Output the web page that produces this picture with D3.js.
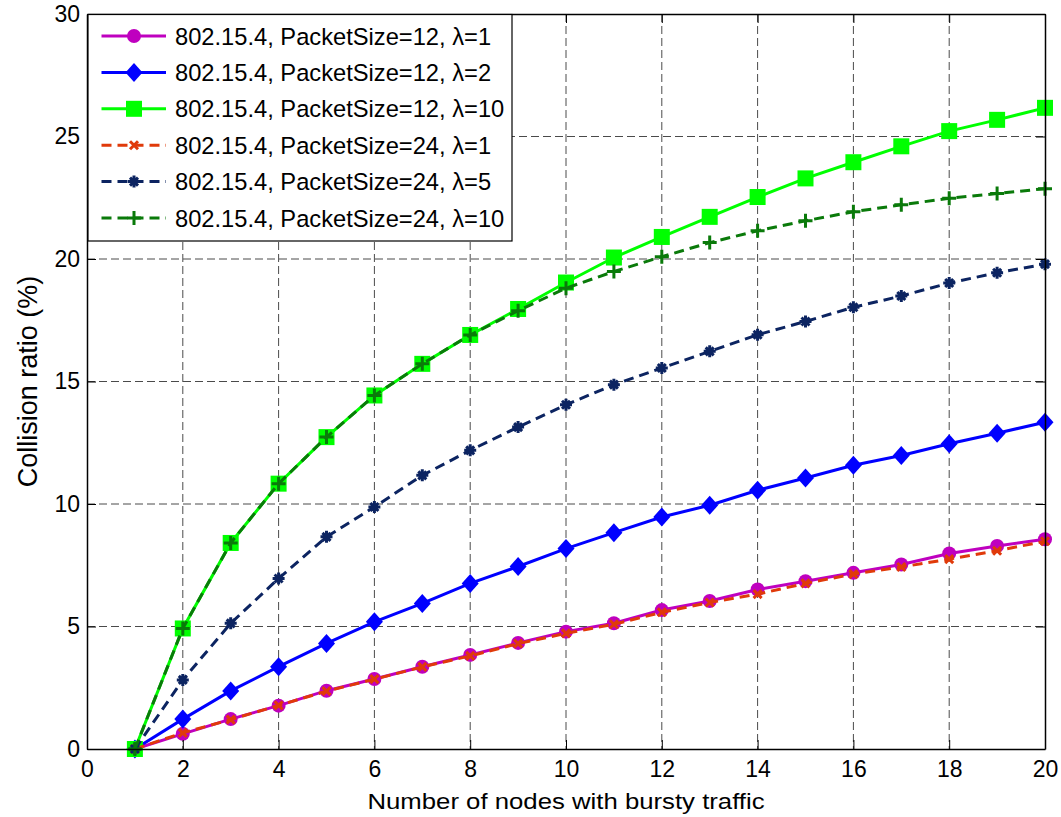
<!DOCTYPE html>
<html>
<head>
<meta charset="utf-8">
<script src="https://cdn.jsdelivr.net/npm/d3@7"></script>
<style>
  html, body { margin: 0; padding: 0; background: #fff; }
  svg { display: block; font-family: "Liberation Sans", Arial, Helvetica, sans-serif; }
</style>
</head>
<body>
<svg id="chart" width="1061" height="817"></svg>
<script>
// ---- data ----
const nodes = [1, 2, 3, 4, 5, 6, 7, 8, 9, 10, 11, 12, 13, 14, 15, 16, 17, 18, 19, 20];
const ps12_l1  = [0, 0.62, 1.22, 1.77, 2.38, 2.86, 3.36, 3.84, 4.33, 4.79, 5.13, 5.67, 6.04, 6.51, 6.85, 7.19, 7.53, 7.98, 8.29, 8.56];
const ps12_l2  = [0, 1.22, 2.37, 3.36, 4.31, 5.19, 5.94, 6.76, 7.45, 8.18, 8.83, 9.47, 9.95, 10.56, 11.06, 11.58, 11.98, 12.46, 12.89, 13.34];
const ps12_l10 = [0, 4.92, 8.41, 10.83, 12.73, 14.43, 15.72, 16.90, 17.96, 19.04, 20.06, 20.90, 21.72, 22.53, 23.29, 23.95, 24.60, 25.22, 25.68, 26.17];
const ps24_l1  = [0, 0.66, 1.20, 1.78, 2.36, 2.85, 3.35, 3.80, 4.30, 4.72, 5.09, 5.58, 5.98, 6.32, 6.76, 7.14, 7.43, 7.75, 8.09, 8.48];
const ps24_l5  = [0, 2.82, 5.13, 6.96, 8.66, 9.88, 11.17, 12.19, 13.14, 14.05, 14.87, 15.55, 16.23, 16.91, 17.45, 18.03, 18.49, 19.02, 19.44, 19.79];
const ps24_l10 = [0, 4.92, 8.41, 10.83, 12.73, 14.43, 15.72, 16.90, 17.89, 18.81, 19.49, 20.09, 20.67, 21.15, 21.56, 21.93, 22.21, 22.48, 22.67, 22.87];

const seriesLabels = [
  "802.15.4, PacketSize=12, \u03BB=1",
  "802.15.4, PacketSize=12, \u03BB=2",
  "802.15.4, PacketSize=12, \u03BB=10",
  "802.15.4, PacketSize=24, \u03BB=1",
  "802.15.4, PacketSize=24, \u03BB=5",
  "802.15.4, PacketSize=24, \u03BB=10"
];
const xTicks = [0, 2, 4, 6, 8, 10, 12, 14, 16, 18, 20];
const yTicks = [0, 5, 10, 15, 20, 25, 30];
const xTitle = "Number of nodes with bursty traffic";
const yTitle = "Collision ratio (%)";

// ---- styles ----
const styles = [
  { values: ps12_l1,  color: "#bf00bf", dash: null,   marker: "circle" },
  { values: ps12_l2,  color: "#0000ff", dash: null,   marker: "diamond" },
  { values: ps12_l10, color: "#00ff00", dash: null,   marker: "square" },
  { values: ps24_l1,  color: "#e03a0a", dash: "10,6", marker: "x" },
  { values: ps24_l5,  color: "#0c2461", dash: "10,6", marker: "star" },
  { values: ps24_l10, color: "#0a7a0a", dash: "10,6", marker: "plus" }
];

const W = 1061, H = 817;
const L = 87, R = 1045, T = 14, B = 749;
const FONT = 23;

const svg = d3.select("#chart");
const x = d3.scaleLinear().domain([0, 20]).range([L, R]);
const y = d3.scaleLinear().domain([0, 30]).range([B, T]);

// grid
const grid = svg.append("g");
grid.selectAll("line.vg").data(xTicks.filter(t => t > 0 && t < 20)).enter().append("line")
  .attr("x1", d => x(d)).attr("x2", d => x(d)).attr("y1", T).attr("y2", B)
  .attr("stroke", "#4a4a4a").attr("stroke-width", 1).attr("stroke-dasharray", "8,4");
grid.selectAll("line.hg").data(yTicks.filter(t => t > 0 && t < 30)).enter().append("line")
  .attr("x1", L).attr("x2", R).attr("y1", d => y(d)).attr("y2", d => y(d))
  .attr("stroke", "#4a4a4a").attr("stroke-width", 1).attr("stroke-dasharray", "8,4");

// markers
function drawMarker(g, type, color, cx, cy) {
  switch (type) {
    case "circle":
      g.append("circle").attr("cx", cx).attr("cy", cy).attr("r", 7).attr("fill", color);
      break;
    case "diamond":
      g.append("path").attr("d", `M${cx},${cy-9.5}L${cx+8.5},${cy}L${cx},${cy+9.5}L${cx-8.5},${cy}Z`).attr("fill", color);
      break;
    case "square":
      g.append("rect").attr("x", cx - 8).attr("y", cy - 8).attr("width", 16).attr("height", 16).attr("fill", color);
      break;
    case "x":
      g.append("path").attr("d", `M${cx-4},${cy-4}L${cx+4},${cy+4}M${cx-4},${cy+4}L${cx+4},${cy-4}`)
        .attr("stroke", color).attr("stroke-width", 3).attr("fill", "none");
      break;
    case "star":
      g.append("path").attr("d", `M${cx},${cy-6}L${cx},${cy+6}M${cx-6},${cy}L${cx+6},${cy}M${cx-4},${cy-4}L${cx+4},${cy+4}M${cx-4},${cy+4}L${cx+4},${cy-4}`)
        .attr("stroke", color).attr("stroke-width", 3).attr("fill", "none");
      break;
    case "plus":
      g.append("path").attr("d", `M${cx},${cy-7}L${cx},${cy+7}M${cx-7},${cy}L${cx+7},${cy}`)
        .attr("stroke", color).attr("stroke-width", 3).attr("fill", "none");
      break;
  }
}

// series
const line = d3.line().x(d => x(d[0])).y(d => y(d[1]));
styles.forEach(s => {
  const pts = nodes.map((n, i) => [n, s.values[i]]);
  const g = svg.append("g");
  g.append("path").datum(pts).attr("d", line)
    .attr("fill", "none").attr("stroke", s.color).attr("stroke-width", 3)
    .attr("stroke-dasharray", s.dash);
  pts.forEach(p => drawMarker(g, s.marker, s.color, x(p[0]), y(p[1])));
});

// axes (ticks inward)
const axB = svg.append("g").attr("transform", `translate(0,${B})`)
  .call(d3.axisBottom(x).tickValues(xTicks).tickSizeInner(-9).tickSizeOuter(0).tickPadding(12).tickFormat(d3.format("d")));
const axL = svg.append("g").attr("transform", `translate(${L},0)`)
  .call(d3.axisLeft(y).tickValues(yTicks).tickSizeInner(-9).tickSizeOuter(0).tickPadding(7).tickFormat(d3.format("d")));
const axT = svg.append("g").attr("transform", `translate(0,${T})`)
  .call(d3.axisTop(x).tickValues(xTicks).tickSizeInner(-9).tickSizeOuter(0).tickFormat(""));
const axR = svg.append("g").attr("transform", `translate(${R},0)`)
  .call(d3.axisRight(y).tickValues(yTicks).tickSizeInner(-9).tickSizeOuter(0).tickFormat(""));
[axB, axL, axT, axR].forEach(a => {
  a.selectAll(".domain").attr("stroke", "#000").attr("stroke-width", 1.5);
  a.selectAll(".tick line").attr("stroke", "#000").attr("stroke-width", 1);
  a.selectAll("text").attr("font-size", FONT).attr("font-family", "Liberation Sans, Arial, sans-serif").attr("fill", "#000");
});

// axis titles
svg.append("text").attr("transform", `translate(${(L + R) / 2},808.5) scale(1.17,1)`).attr("text-anchor", "middle")
  .attr("font-size", 22).attr("fill", "#000").text(xTitle);
svg.append("text").attr("transform", `translate(37,${(T + B) / 2}) rotate(-90)`).attr("text-anchor", "middle")
  .attr("font-size", 27).attr("fill", "#000").text(yTitle);

// legend
const lg = svg.append("g");
lg.append("rect").attr("x", 88).attr("y", 14.5).attr("width", 424).attr("height", 226.5)
  .attr("fill", "#fff").attr("stroke", "#000").attr("stroke-width", 1.2);
const rowY = d3.scaleLinear().domain([0, 5]).range([36, 218]);
styles.forEach((s, i) => {
  const cy = rowY(i);
  lg.append("line").attr("x1", 101.5).attr("x2", 166).attr("y1", cy).attr("y2", cy)
    .attr("stroke", s.color).attr("stroke-width", 3).attr("stroke-dasharray", s.dash);
  drawMarker(lg, s.marker, s.color, 134, cy);
  lg.append("text").attr("x", 175).attr("y", cy).attr("dy", "0.36em")
    .attr("font-size", 23.7).attr("fill", "#000").text(seriesLabels[i]);
});
</script>
</body>
</html>
